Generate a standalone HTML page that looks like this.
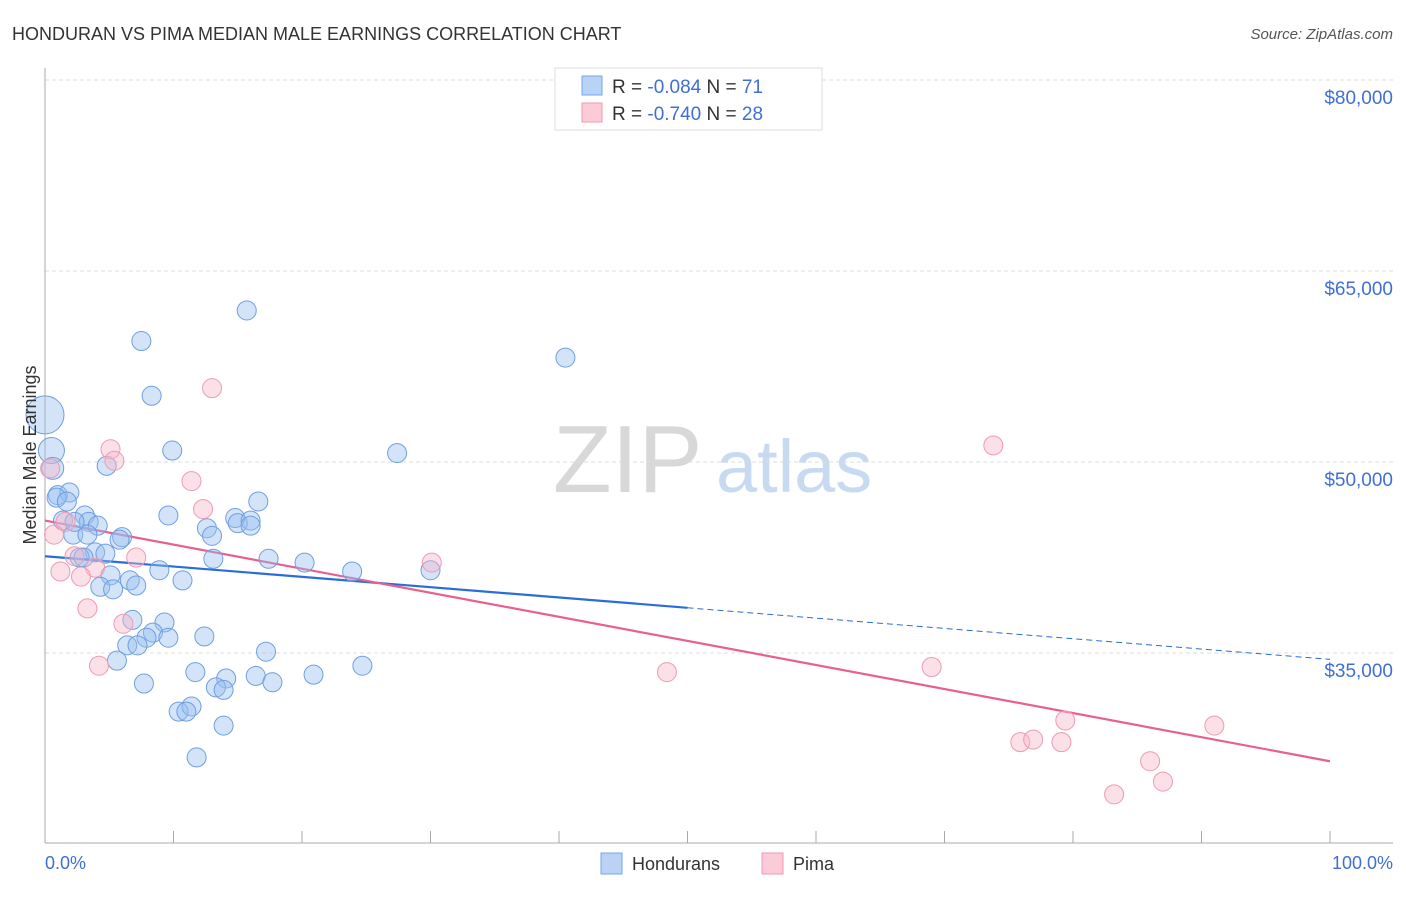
<!DOCTYPE html>
<html><head><meta charset="utf-8"><style>
body{margin:0;background:#fff;font-family:"Liberation Sans",sans-serif}
svg text{font-family:"Liberation Sans",sans-serif}
</style></head><body>
<svg id="c" width="1406" height="892" xmlns="http://www.w3.org/2000/svg">
<text x="12" y="40" font-size="18" fill="#333">HONDURAN VS PIMA MEDIAN MALE EARNINGS CORRELATION CHART</text>
<text x="1393" y="39" font-size="15" fill="#555" font-style="italic" text-anchor="end">Source: ZipAtlas.com</text>
<g>
<text x="553" y="492" font-size="96" fill="#d8d8d8" font-family="Liberation Serif">ZIP</text>
<text x="716" y="492" font-size="74" fill="#c8daf2">atlas</text>
</g>
<g id="grid"></g><g id="axes"></g><g id="trends"></g><g id="pts"></g>
<text x="36" y="455" font-size="18" fill="#333" transform="rotate(-90 36 455)" text-anchor="middle">Median Male Earnings</text>
<text x="45" y="869" font-size="18" fill="#3f6fd6">0.0%</text>
<text x="1393" y="869" font-size="18" fill="#3f6fd6" text-anchor="end">100.0%</text>
<g>
<rect x="555" y="68" width="267" height="62" fill="#fff" stroke="#ddd"/>
<rect x="582" y="76" width="20" height="19" fill="#b8d3f5" stroke="#7aa6e6"/>
<text x="612" y="93" font-size="19" fill="#333">R = <tspan fill="#3f6fd6">-0.084</tspan>  N = <tspan fill="#3f6fd6">71</tspan></text>
<rect x="582" y="103" width="20" height="19" fill="#fbcbd8" stroke="#ef9ab5"/>
<text x="612" y="120" font-size="19" fill="#333">R = <tspan fill="#3f6fd6">-0.740</tspan>  N = <tspan fill="#3f6fd6">28</tspan></text>
</g>
<g>
<rect x="601" y="853" width="21" height="21" fill="#b8d3f5" stroke="#7aa6e6"/>
<text x="632" y="870" font-size="18" fill="#333">Hondurans</text>
<rect x="762" y="853" width="21" height="21" fill="#fbcbd8" stroke="#ef9ab5"/>
<text x="793" y="870" font-size="18" fill="#333">Pima</text>
</g>
</svg>
<script>
const yTicks=[35000,50000,65000,80000];
const yTickLabels=["$35,000","$50,000","$65,000","$80,000"];
const xTicks=[0,10,20,30,40,50,60,70,80,90,100];
const hondX=[0,0.5,0.6,1.0,1.9,0.9,1.7,1.4,3.1,3.4,4.1,2.2,3.3,2.3,6.0,5.8,3.9,4.7,2.7,3.0,8.9,10.7,5.1,6.6,7.1,4.3,5.3,8.3,9.9,4.8,9.6,16.6,14.8,15.0,16.0,16.0,12.6,13.0,13.1,17.4,20.2,23.9,30.0,27.4,6.8,9.3,8.4,7.9,9.6,6.4,7.2,12.4,17.2,5.6,11.7,14.1,13.3,13.9,16.4,17.7,20.9,24.7,7.7,10.4,11.4,11.0,13.9,11.8,7.5,15.7,40.5];
const hondY=[53.7,50.9,49.5,47.4,47.6,47.2,46.9,45.4,45.8,45.3,45.0,44.3,44.3,45.3,44.1,43.9,42.9,42.8,42.5,42.5,41.5,40.7,41.1,40.7,40.3,40.2,40.0,55.2,50.9,49.7,45.8,46.9,45.6,45.2,45.4,45.0,44.8,44.2,42.4,42.4,42.1,41.4,41.5,50.7,37.6,37.4,36.6,36.2,36.2,35.6,35.6,36.3,35.1,34.4,33.5,33.0,32.3,32.1,33.2,32.7,33.3,34.0,32.6,30.4,30.8,30.4,29.3,26.8,59.5,61.9,58.2];
const hondR=[19,13,11];
const pimaX=[13.0,5.1,5.4,0.4,11.4,12.3,1.6,0.7,2.3,7.1,3.9,1.2,2.8,3.3,6.1,4.2,30.1,73.8,48.4,69.0,75.9,76.9,79.1,79.4,91.0,86.0,87.0,83.2];
const pimaY=[55.8,51.0,50.1,49.5,48.5,46.3,45.3,44.3,42.6,42.5,41.7,41.4,41.0,38.5,37.3,34.0,42.1,51.3,33.5,33.9,28.0,28.2,28.0,29.7,29.3,26.5,24.9,23.9];
const hondTrend=[42.6,34.5];
const pimaTrend=[45.4,26.5];
const NS="http://www.w3.org/2000/svg";
const X=p=>45+p*12.85;
const Y=v=>80+(80-v)*191/15;
function mk(t,a,parent){const e=document.createElementNS(NS,t);for(const k in a)e.setAttribute(k,a[k]);document.getElementById(parent).appendChild(e);return e;}
yTicks.forEach((t,i)=>{
 const l=mk('line',{x1:45,x2:1393,y1:Y(t/1000),y2:Y(t/1000),stroke:'#ddd','stroke-dasharray':'4 3'},'grid');
 
 
 const tx=mk('text',{x:1393,y:Y(t/1000)+24,'font-size':19,fill:'#3f6fd6','text-anchor':'end'},'grid');
 tx.textContent=yTickLabels[i];
 
 
});
const ya=mk('line',{x1:45,x2:45,y1:68,y2:843,stroke:'#aaa'},'axes');


const xa=mk('line',{x1:45,x2:1393,y1:843,y2:843,stroke:'#aaa'},'axes');


xTicks.forEach(t=>{
 const l=mk('line',{x1:X(t),x2:X(t),y1:831,y2:843,stroke:'#aaa'},'axes');
 
 
});
function trend(tr,col,name,solidTo){
 const f=p=>tr[0]+(tr[1]-tr[0])*p/100;
 const a=mk('line',{x1:X(0),y1:Y(f(0)),x2:X(solidTo),y2:Y(f(solidTo)),stroke:col,'stroke-width':2.2},'trends');
 
 
 if(solidTo<100){
  const b=mk('line',{x1:X(solidTo),y1:Y(f(solidTo)),x2:X(100),y2:Y(f(100)),stroke:col,'stroke-width':1,'stroke-dasharray':'6 4'},'trends');
  
  
 }
}
trend(hondTrend,'#2a6dd9','hondurans-trend-line',50);
trend(pimaTrend,'#e8608f','pima-trend-line',100);
hondX.forEach((x,i)=>{
 const c=mk('circle',{cx:X(x),cy:Y(hondY[i]),r:hondR[i]||9.5,fill:'rgba(150,190,240,0.42)',stroke:'#6f9fe0','stroke-width':1},'pts');
 
 
});
pimaX.forEach((x,i)=>{
 const c=mk('circle',{cx:X(x),cy:Y(pimaY[i]),r:9.5,fill:'rgba(248,180,200,0.42)',stroke:'#ef9ab5','stroke-width':1},'pts');
 
 
});
</script>
</body></html>
